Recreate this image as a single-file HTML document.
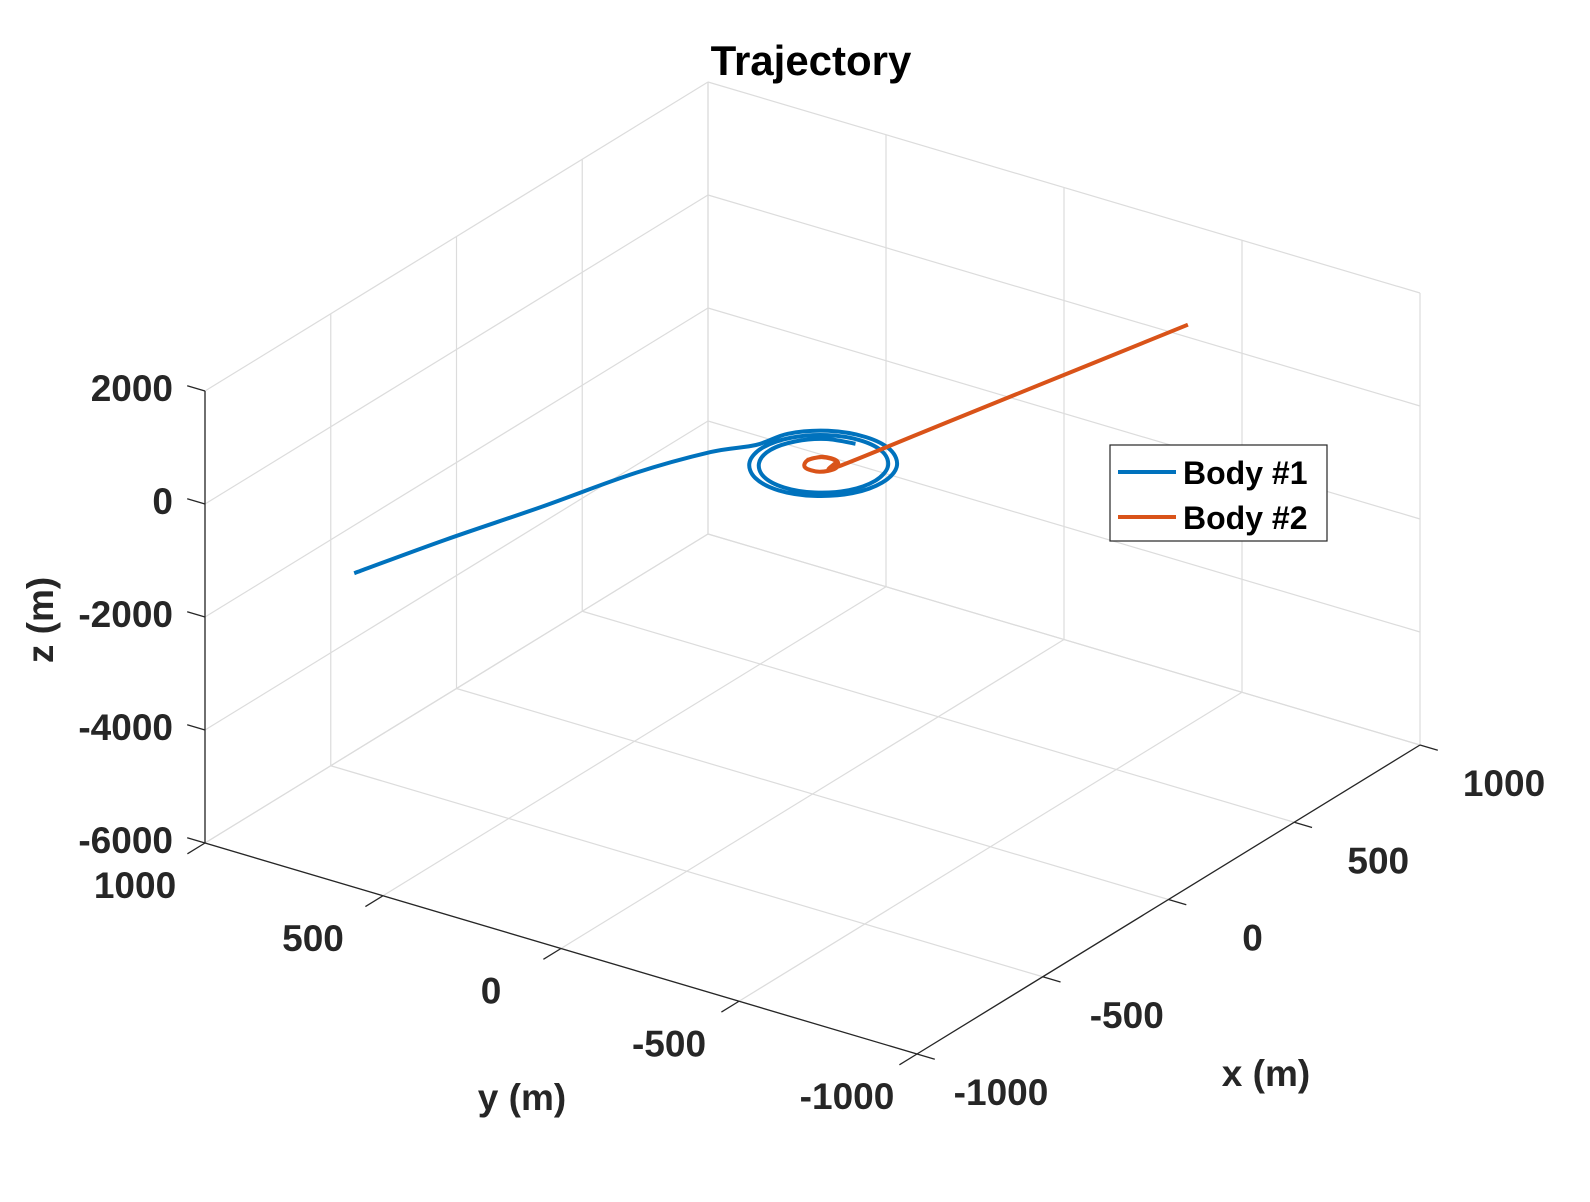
<!DOCTYPE html>
<html><head><meta charset="utf-8"><title>Trajectory</title>
<style>html,body{margin:0;padding:0;background:#fff}svg{display:block}text{font-family:"Liberation Sans",Arial,sans-serif;font-weight:bold;fill:#262626}</style>
</head><body>
<svg id="chart" width="1590" height="1202" viewBox="0 0 1590 1202">
<rect width="1590" height="1202" fill="#fff"/>
<g id="grid"></g>
<g id="axes"></g>
<g id="series"></g>
<text x="811" y="75" font-size="42" text-anchor="middle" style="fill:#000">Trajectory</text>
<text x="0" y="0" font-size="37" text-anchor="middle" transform="translate(53,620) rotate(-90)">z (m)</text>
<text x="522" y="1110" font-size="37" text-anchor="middle">y (m)</text>
<text x="1266" y="1086" font-size="37" text-anchor="middle">x (m)</text>
<g>
<rect x="1110" y="445" width="217" height="96" fill="#fff" stroke="#262626" stroke-width="1.2"/>
<line x1="1118" y1="472" x2="1176" y2="472" stroke="#0072BD" stroke-width="4"/>
<text x="1183" y="484" font-size="32" style="fill:#000">Body #1</text>
<line x1="1118" y1="517" x2="1176" y2="517" stroke="#D95319" stroke-width="4"/>
<text x="1183" y="529" font-size="32" style="fill:#000">Body #2</text>
</g>
</svg>
<script>
const xTicks = [-1000, -500, 0, 500, 1000];
const yTicks = [-1000, -500, 0, 500, 1000];
const zTicks = [-6000, -4000, -2000, 0, 2000];
const xTickLabels = ["-1000", "-500", "0", "500", "1000"];
const yTickLabels = ["-1000", "-500", "0", "500", "1000"];
const zTickLabels = ["-6000", "-4000", "-2000", "0", "2000"];
const body1X = [-1000,-750,-500,-250,-80,20,110,175,197,172,107,20,-65,-126,-148,-124,-62,20,100,157,177,155,97,20,-55,-109,-127,-106,-51,20,90,140,157];
const body1Y = [581,500,410,320,230,173,147,80,-10,-98,-161,-182,-158,-94,-10,73,133,153,129,69,-10,-88,-143,-162,-141,-84,-10,62,114,132,111,60,-10];
const body1Z = [-442,-380,-320,-230,-160,-200,-200,-200,-201,-201,-202,-202,-203,-203,-204,-204,-205,-205,-206,-206,-207,-207,-208,-208,-209,-209,-210,-210,-211,-211,-212,-212,-213];
const body2X = [20,55,55,20,-15,-15,20,53,53,20,260,500,1000];
const body2Y = [30,10,-30,-50,-30,10,28,9,-29,-46,-120,-194,-348];
const body2Z = [-200,-200,-200,-200,-200,-200,-200,-200,-200,-200,-100,6,221];

const NS = "http://www.w3.org/2000/svg";
const O = {x:917, y:1054};
const EX = {x:503/2000, y:-309/2000};
const EY = {x:-712/2000, y:-211/2000};
const EZ = {x:0, y:-452/8000};
function proj(x,y,z){
  const a=x+1000,b=y+1000,c=z+6000;
  return [O.x+a*EX.x+b*EY.x+c*EZ.x, O.y+a*EX.y+b*EY.y+c*EZ.y];
}
function line(g,p,q,col,w,name){
  const l=document.createElementNS(NS,"line");
  l.setAttribute("x1",p[0]);l.setAttribute("y1",p[1]);l.setAttribute("x2",q[0]);l.setAttribute("y2",q[1]);
  l.setAttribute("stroke",col);l.setAttribute("stroke-width",w);
  
  
  g.appendChild(l);
}
function label(g,txt,cx,cy,anchor,name){
  const t=document.createElementNS(NS,"text");
  t.setAttribute("x",cx);t.setAttribute("y",cy+13);t.setAttribute("font-size","37");t.setAttribute("text-anchor",anchor);
  t.textContent=txt;
  
  
  g.appendChild(t);
}
const grid=document.getElementById("grid"), axes=document.getElementById("axes"), series=document.getElementById("series");
const GC="#dcdcdc";
const xmin=-1000,xmax=1000,ymin=-1000,ymax=1000,zmin=-6000,zmax=2000;
xTicks.forEach(x=>{ line(grid,proj(x,ymax,zmin),proj(x,ymax,zmax),GC,1.2,'grid-line-x-wall'); line(grid,proj(x,ymin,zmin),proj(x,ymax,zmin),GC,1.2,'grid-line-x-floor'); });
yTicks.forEach(y=>{ line(grid,proj(xmax,y,zmin),proj(xmax,y,zmax),GC,1.2,'grid-line-y-wall'); line(grid,proj(xmin,y,zmin),proj(xmax,y,zmin),GC,1.2,'grid-line-y-floor'); });
zTicks.forEach(z=>{ line(grid,proj(xmin,ymax,z),proj(xmax,ymax,z),GC,1.2,'grid-line-z-left'); line(grid,proj(xmax,ymax,z),proj(xmax,ymin,z),GC,1.2,'grid-line-z-right'); });
const AC="#262626";
line(axes,proj(xmin,ymax,zmin),proj(xmin,ymax,zmax),AC,1.3,'z-axis');
line(axes,proj(xmin,ymin,zmin),proj(xmin,ymax,zmin),AC,1.3,'y-axis');
line(axes,proj(xmin,ymin,zmin),proj(xmax,ymin,zmin),AC,1.3,'x-axis');
const TL=0.05;
zTicks.forEach((z,i)=>{ const p=proj(xmin,ymax,z), q=proj(xmin,ymax+2000*TL*0.5,z); line(axes,p,q,AC,1.3,'z-tick'); label(axes,zTickLabels[i],173,p[1]-3,"end",'z-tick-label'); });
yTicks.forEach((y,i)=>{ const p=proj(xmin,y,zmin), q=proj(xmin-2000*TL*0.7,y,zmin); line(axes,p,q,AC,1.3,'y-tick'); label(axes,yTickLabels[i],p[0]-70,p[1]+42,"middle",'y-tick-label'); });
xTicks.forEach((x,i)=>{ const p=proj(x,ymin,zmin), q=proj(x,ymin-2000*TL*0.5,zmin); line(axes,p,q,AC,1.3,'x-tick'); label(axes,xTickLabels[i],p[0]+84,p[1]+38,"middle",'x-tick-label'); });
function drawSeries(X,Y,Z,col,name){
  const pts=X.map((x,i)=>proj(x,Y[i],Z[i]));
  let d="M"+pts[0][0].toFixed(1)+","+pts[0][1].toFixed(1);
  for(let i=0;i<pts.length-1;i++){
    const p0=pts[Math.max(i-1,0)],p1=pts[i],p2=pts[i+1],p3=pts[Math.min(i+2,pts.length-1)];
    const c1=[p1[0]+(p2[0]-p0[0])/6,p1[1]+(p2[1]-p0[1])/6], c2=[p2[0]-(p3[0]-p1[0])/6,p2[1]-(p3[1]-p1[1])/6];
    d+=" C"+c1.map(v=>v.toFixed(1)).join(",")+" "+c2.map(v=>v.toFixed(1)).join(",")+" "+p2.map(v=>v.toFixed(1)).join(",");
  }
  const path=document.createElementNS(NS,"path");
  path.setAttribute("d",d);path.setAttribute("fill","none");path.setAttribute("stroke",col);path.setAttribute("stroke-width","4");path.setAttribute("stroke-linejoin","round");
  
  
  series.appendChild(path);
}
drawSeries(body1X,body1Y,body1Z,"#0072BD",'body1-trajectory');
drawSeries(body2X,body2Y,body2Z,"#D95319",'body2-trajectory');
</script>
</body></html>
